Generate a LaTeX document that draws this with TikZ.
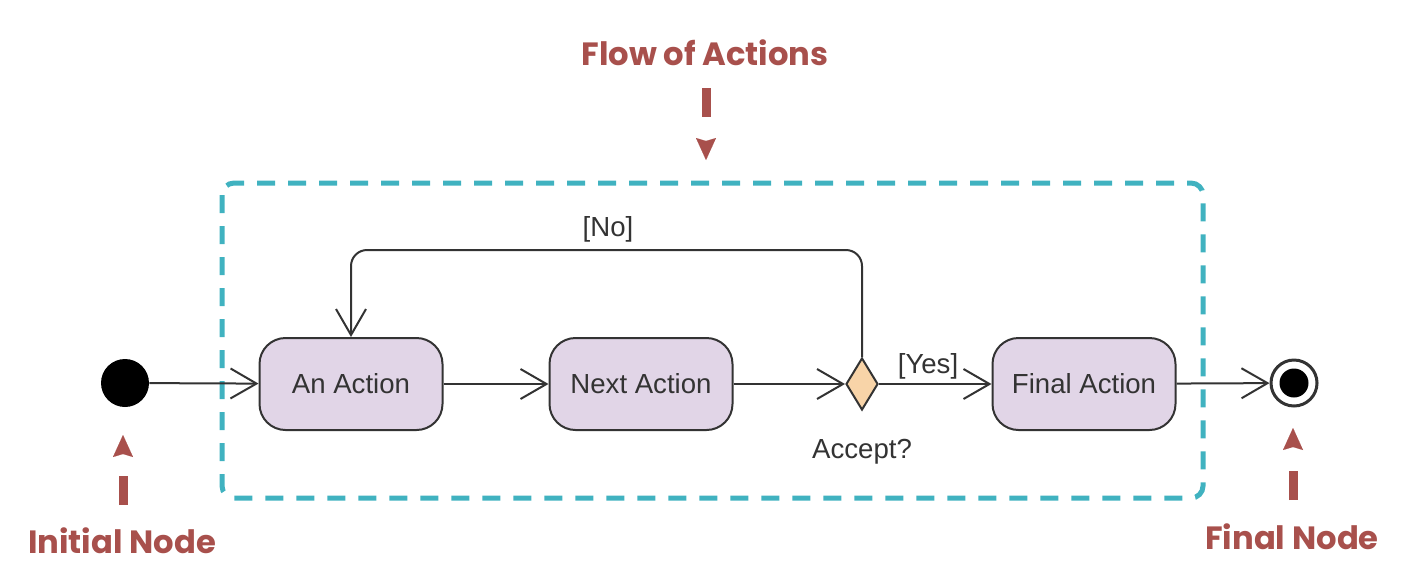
\documentclass[tikz,border=0pt]{standalone}
\usepackage{fontspec}
\setmainfont{Liberation Sans}
\newfontfamily\redfont{Poppins}
\usetikzlibrary{arrows.meta,shapes.geometric}
\definecolor{actfill}{RGB}{225,213,231}
\definecolor{decfill}{RGB}{248,212,168}
\definecolor{boxteal}{RGB}{64,178,192}
\definecolor{labred}{RGB}{168,80,76}
\definecolor{linegray}{RGB}{51,51,51}
\begin{document}
\begin{tikzpicture}[x=0.5pt,y=-0.5pt,
  action/.style={draw=linegray, line width=1pt, fill=actfill, rounded corners=13pt,
    minimum width=91.5pt, minimum height=46pt, inner sep=0pt,
    font=\fontsize{13.8}{16}\selectfont, text=linegray},
  decision/.style={diamond, draw=linegray, line width=1pt, fill=decfill,
    minimum width=16pt, minimum height=26pt, inner sep=0pt},
  flow/.style={draw=linegray, line width=1pt, -{Straight Barb[length=13pt,width=15pt]}},
  guard/.style={font=\fontsize{13.8}{16}\selectfont, text=linegray, inner sep=0pt},
  redlabel/.style={font=\redfont\bfseries\fontsize{16.1}{19}\selectfont, text=labred, inner sep=0pt},
  redarrow/.style={draw=labred, line width=4.5pt, dash pattern=on 14.5pt off 60pt,
    -{Stealth[length=11pt,width=10pt,inset=1.5pt,line width=0.01pt]}},
  groupbox/.style={draw=boxteal, line width=2.5pt, dash pattern=on 9pt off 6.5pt, rounded corners=6pt}
]
\useasboundingbox (0,0) rectangle (1412,584);

% group frame
\draw[groupbox] (222,183) rectangle (1203,498);

% nodes
\node[circle, fill=black, minimum size=24pt, inner sep=0pt] (init) at (125,383) {};
\node[action] (act1) at (351,384) {An Action};
\node[action] (act2) at (641,384) {Next Action};
\node[decision] (dec) at (862,384) {};
\node[action] (act3) at (1084,384) {Final Action};
\node[circle, draw=linegray, line width=1.5pt, fill=white, minimum size=23pt, inner sep=0pt] (final) at (1294,383) {};
\node[circle, fill=black, minimum size=14.5pt, inner sep=0pt] (finalin) at (1294,383) {};

% guards / labels
\node[guard] (nolab) at (608,229) {[No]};
\node[guard] (yeslab) at (928,366) {[Yes]};
\node[guard] (acclab) at (862,452) {Accept?};

% flows
\coordinate (loopy) at (0,250);
\draw[flow] (init) -- (act1);
\draw[flow] (act1) -- (act2);
\draw[flow] (act2) -- (dec);
\draw[flow] (dec) -- (act3);
\draw[flow] (act3) -- (final);
\draw[flow, rounded corners=8pt] (dec.north) -- (dec.north |- loopy) -- (act1.north |- loopy) -- (act1.north);

% annotations
\node[redlabel] (flowlab) at (705,53) {Flow of Actions};
\node[redlabel] (initlab) at (122,541) {Initial Node};
\node[redlabel] (finallab) at (1292,537) {Final Node};
\coordinate (flowS) at (706,88);
\coordinate (flowE) at (706,160);
\coordinate (initS) at (123,505);
\coordinate (initE) at (123,435);
\coordinate (finS) at (1293,500);
\coordinate (finE) at (1293,428);
\draw[redarrow] (flowS) -- (flowE);
\draw[redarrow] (initS) -- (initE);
\draw[redarrow] (finS) -- (finE);
\end{tikzpicture}
\end{document}
